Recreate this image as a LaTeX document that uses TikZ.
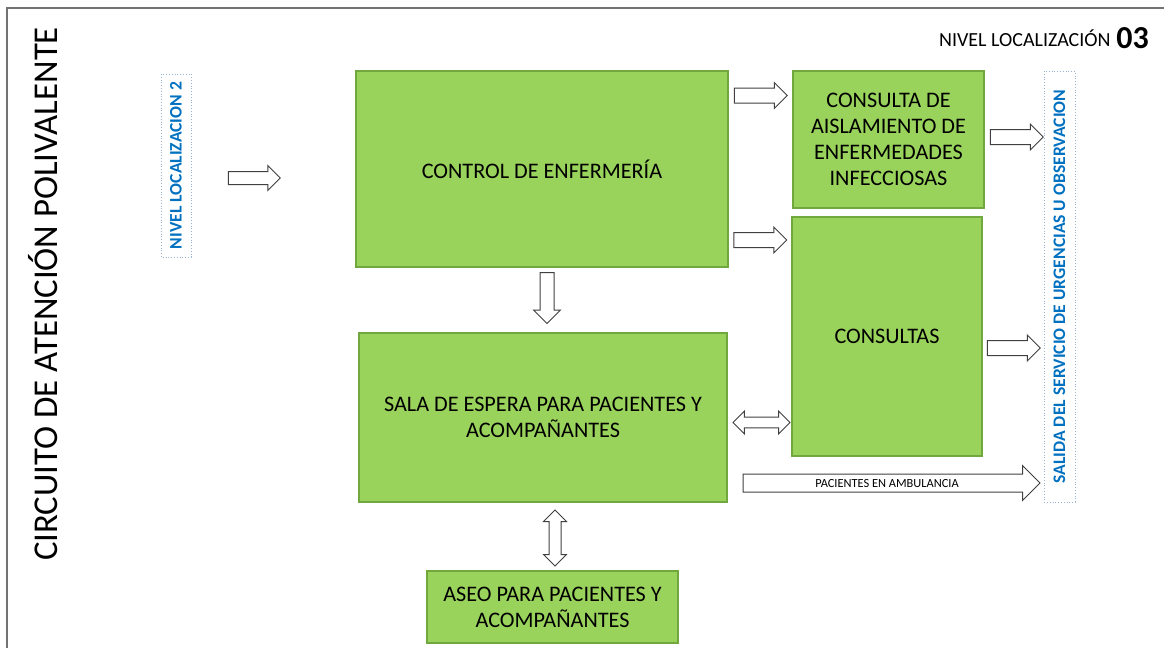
\documentclass[tikz,border=0pt]{standalone}
\usepackage{fontspec}
\setmainfont{Carlito}
\usetikzlibrary{shapes.arrows}

\definecolor{boxgreen}{RGB}{153,211,92}
\definecolor{boxline}{RGB}{112,168,62}
\definecolor{tagblue}{RGB}{0,112,192}
\definecolor{tagline}{RGB}{150,180,210}

\tikzset{
    area/.style={draw=boxline, fill=boxgreen, line width=0.6pt, align=center,
        font=\fontsize{11.1}{13}\selectfont, inner sep=2pt},
    tag/.style={draw=tagline, densely dotted, rotate=90, text=tagblue,
        font=\fontsize{8.8}{10}\selectfont\bfseries, inner sep=0pt},
    flow/.style={single arrow, draw=black!75, fill=white, line width=0.5pt,
        inner xsep=0pt, inner ysep=3.5pt, minimum width=0pt, minimum height=26.5pt,
        single arrow head extend=2.75pt},
    twoway/.style={double arrow, draw=black!75, fill=white, line width=0.5pt,
        inner xsep=0pt, inner ysep=2.4pt, minimum width=0pt, double arrow head extend=3pt}
}

\begin{document}
\begin{tikzpicture}[x=0.5pt, y=-0.5pt]
    \useasboundingbox (0,0) rectangle (1164,648);
    % frame
    \draw[black!55, line width=0.6pt] (7,648) -- (7,8) -- (1164,8);

    % headings
    \node[rotate=90, font=\fontsize{17.4}{20}\selectfont] (title) at (43,294) {CIRCUITO DE ATENCIÓN POLIVALENTE};
    \node[anchor=east, inner sep=0pt, font=\fontsize{10}{12}\selectfont] (nivel) at (1111,38) {NIVEL LOCALIZACIÓN};
    \node[anchor=west, inner sep=0pt, font=\fontsize{16}{18}\selectfont\bfseries] (num) at ([xshift=2.5pt]nivel.east) {03};

    % side tags
    \node[tag, minimum width=91.5pt, minimum height=15pt] (prev) at (176,165.5) {NIVEL LOCALIZACION 2};
    \node[tag, minimum width=215.5pt, minimum height=15.5pt] (salida) at (1059.5,286.5) {SALIDA DEL SERVICIO DE URGENCIAS U OBSERVACION};

    % areas
    \node[area, minimum width=186pt, minimum height=98pt] (control) at (542,169) {CONTROL DE ENFERMERÍA};
    \node[area, minimum width=95.5pt, minimum height=68.5pt] (aislamiento) at (888.5,139.5) {CONSULTA DE\\AISLAMIENTO DE\\ENFERMEDADES\\INFECCIOSAS};
    \node[area, minimum width=95pt, minimum height=119.5pt] (consultas) at (887,336.5) {CONSULTAS};
    \node[area, minimum width=184pt, minimum height=84.5pt] (sala) at (543,417.5) {SALA DE ESPERA PARA PACIENTES Y\\ACOMPAÑANTES};
    \node[area, minimum width=125.5pt, minimum height=36pt] (aseo) at (552.5,607) {ASEO PARA PACIENTES Y\\ACOMPAÑANTES};

    % block arrows
    \node[flow, minimum height=26pt, inner ysep=3pt, single arrow head extend=3pt] (in) at (251,178) {};
    \node[flow] (toaisl) at (757,95.5) {};
    \node[flow] (tocons) at (756.5,240) {};
    \node[flow] (aislout) at (1013,137) {};
    \node[flow] (consout) at (1010,348) {};
    \node[flow, rotate=-90, minimum height=25.5pt, inner ysep=3.25pt, single arrow head extend=3.25pt] (tosala) at (547,294.5) {};
    \node[twoway, minimum height=28.5pt] (salacons) at (761.5,422.5) {};
    \node[twoway, rotate=90, minimum height=28pt, inner ysep=2.75pt, double arrow head extend=2.75pt] (salaaseo) at (555,538) {};
    \node[flow, minimum height=148.5pt, text height=4pt, text depth=0pt, inner ysep=2.25pt,
        single arrow head extend=4.25pt, font=\fontsize{6.2}{7}\selectfont] (ambulancia) at (887,483) {PACIENTES EN AMBULANCIA};
\end{tikzpicture}
\end{document}
